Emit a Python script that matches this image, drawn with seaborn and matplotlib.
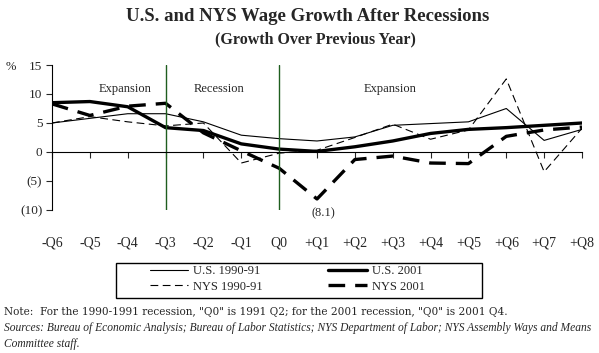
import numpy as np
import pandas as pd
import seaborn as sns
import matplotlib.pyplot as plt
from matplotlib.lines import Line2D
from matplotlib.patches import Rectangle

# dati
quarters = ['-Q6', '-Q5', '-Q4', '-Q3', '-Q2', '-Q1', 'Q0', '+Q1', '+Q2',
            '+Q3', '+Q4', '+Q5', '+Q6', '+Q7', '+Q8']
us_1990 = [5.0, 5.8, 6.6, 6.6, 5.2, 2.9, 2.3, 1.9, 2.6, 4.6, 4.9, 5.2, 7.5, 2.0, 3.9]
us_2001 = [8.5, 8.7, 7.8, 4.2, 3.7, 1.4, 0.5, 0.1, 0.9, 1.9, 3.2, 3.9, 4.2, 4.6, 5.0]
nys_1990 = [5.0, 6.1, 5.2, 4.5, 5.0, -1.9, -0.2, 0.3, 2.5, 4.8, 2.2, 3.8, 12.6, -3.4, 4.1]
nys_2001 = [8.3, 6.3, 7.9, 8.4, 3.3, 0.2, -2.8, -8.1, -1.3, -0.7, -1.9, -2.0, 2.7, 3.8, 4.3]
ytick_vals = [-10, -5, 0, 5, 10, 15]
ytick_labels = ['(10)', '(5)', '0', '5', '10', '15']

df = pd.DataFrame({'q': np.arange(len(quarters)),
                   'U.S. 1990-91': us_1990, 'U.S. 2001': us_2001,
                   'NYS 1990-91': nys_1990, 'NYS 2001': nys_2001})

sns.set_style('white')
plt.rcParams['font.family'] = ['Liberation Serif', 'DejaVu Serif']

fig = plt.figure(figsize=(5.99, 3.53), dpi=100)
ax = fig.add_axes([52 / 599, 1 - 210 / 353, 530 / 599, 145 / 353])

styles = {
    'U.S. 1990-91': dict(linewidth=0.8, linestyle='-'),
    'U.S. 2001': dict(linewidth=2.4, linestyle='-'),
    'NYS 1990-91': dict(linewidth=0.8, linestyle=(0, (7, 4))),
    'NYS 2001': dict(linewidth=2.4, linestyle=(0, (5, 3))),
}
for name, st in styles.items():
    sns.lineplot(data=df, x='q', y=name, ax=ax, color='black', **st)

# linee verticali dei periodi
green = '#1f5e1f'
ax.axvline(quarters.index('-Q3'), color=green, lw=1)
ax.axvline(quarters.index('Q0'), color=green, lw=1)
ax.text(1.93, 10.9, 'Expansion', ha='center', va='center', fontsize=9)
ax.text(4.41, 10.9, 'Recession', ha='center', va='center', fontsize=9)
ax.text(8.93, 10.9, 'Expansion', ha='center', va='center', fontsize=9)
ax.text(7.17, -10.6, '(8.1)', ha='center', va='center', fontsize=9)

ax.set_xlim(0, len(quarters) - 1)
ax.set_ylim(-10, 15)
ax.set_yticks(ytick_vals)
ax.set_yticklabels(ytick_labels, fontsize=9.5)
ax.set_xticks(np.arange(len(quarters)))
ax.set_xticklabels(quarters, fontsize=9.5)
ax.set_xlabel('')
ax.set_ylabel('')
ax.text(-0.068, 0.985, '%', transform=ax.transAxes, ha='right', va='center', fontsize=9)

for s in ['top', 'right']:
    ax.spines[s].set_visible(False)
ax.spines['left'].set_color('black')
ax.spines['left'].set_linewidth(0.8)
ax.spines['bottom'].set_position(('data', 0))
ax.spines['bottom'].set_color('black')
ax.spines['bottom'].set_linewidth(0.8)
ax.tick_params(axis='y', direction='out', length=4, width=0.8, left=True, pad=3)
ax.tick_params(axis='x', direction='out', length=4, width=0.8, bottom=True, pad=57)

fig.text(0.513, 0.952, 'U.S. and NYS Wage Growth After Recessions', ha='center', va='center',
         fontsize=13.5, fontweight='bold')
fig.text(0.526, 0.887, '(Growth Over Previous Year)', ha='center', va='center',
         fontsize=11.5, fontweight='bold')

# legenda con riquadro disegnato a parte
labels = ['U.S. 1990-91', 'NYS 1990-91', 'U.S. 2001', 'NYS 2001']
handles = [Line2D([], [], color='black', **styles[n]) for n in labels]
leg = fig.legend(handles, labels, ncol=2, loc='center', bbox_to_anchor=(0.4795, 0.21),
                 fontsize=9, frameon=False, handlelength=3.1, handletextpad=0.4,
                 columnspacing=5.2, labelspacing=0.3, borderpad=0)
fig.add_artist(Rectangle((116 / 599, 1 - 298 / 353), 366 / 599, 35 / 353,
                         transform=fig.transFigure, fill=False, edgecolor='black', lw=1))

fig.text(0.007, 0.117, 'Note:  For the 1990-1991 recession, "Q0" is 1991 Q2; for the 2001 recession, "Q0" is 2001 Q4.',
         ha='left', va='center', fontsize=7.6, family='DejaVu Serif')
fig.text(0.007, 0.071, 'Sources: Bureau of Economic Analysis; Bureau of Labor Statistics; NYS Department of Labor; NYS Assembly Ways and Means',
         ha='left', va='center', fontsize=8.3, style='italic')
fig.text(0.007, 0.026, 'Committee staff.', ha='left', va='center', fontsize=8.3, style='italic')

fig.savefig('out.png', dpi=100)
